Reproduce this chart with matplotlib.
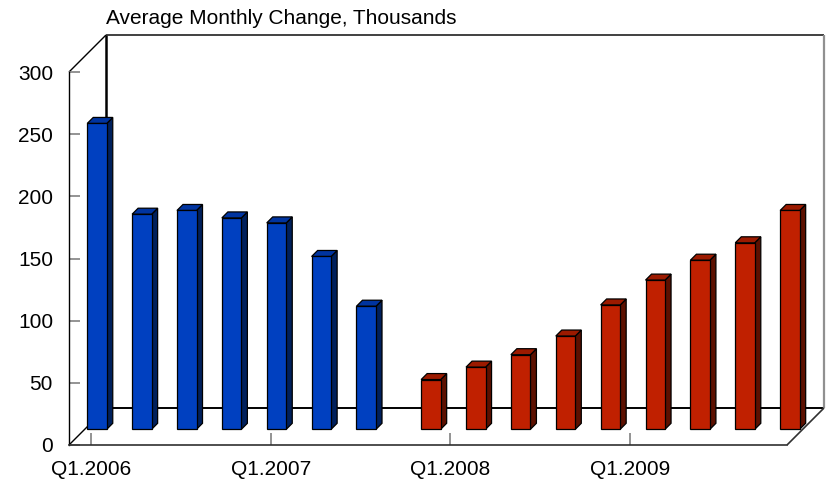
import matplotlib
matplotlib.use('Agg')
import matplotlib.pyplot as plt
import numpy as np
from matplotlib.patches import Polygon
from matplotlib.lines import Line2D
from matplotlib.transforms import ScaledTranslation, IdentityTransform

plt.rcParams['font.family'] = ['Liberation Sans', 'DejaVu Sans']

# ---------------- data ----------------
categories = ['Q1.2006', 'Q2.2006', 'Q3.2006', 'Q4.2006',
              'Q1.2007', 'Q2.2007', 'Q3.2007', 'Q4.2007',
              'Q1.2008', 'Q2.2008', 'Q3.2008', 'Q4.2008',
              'Q1.2009', 'Q2.2009', 'Q3.2009', 'Q4.2009']
blue_categories = categories[0:7]
blue_values = [246, 173, 176, 170, 166, 139, 99]
red_categories = categories[7:16]
red_values = [40, 50, 60, 75, 100, 120, 136, 150, 176]
tick_labels = ['Q1.2006', 'Q1.2007', 'Q1.2008', 'Q1.2009']
y_ticks = [0, 50, 100, 150, 200, 250, 300]
title = 'Average Monthly Change, Thousands'

# ---------------- style ----------------
DPI = 100
W, H = 829, 484
BACK = 37.0      # depth of the box, pixels
D_FRONT = 15.7   # depth at which bar front faces sit
D_BAR = 6.0      # bar depth
BAR_W = 0.435
BLUE = dict(front='#0040C0', top='#0034A0', side='#00205C')
RED = dict(front='#C02000', top='#9C1A00', side='#5C1000')

fig = plt.figure(figsize=(W / DPI, H / DPI), dpi=DPI)
ax = fig.add_axes([69 / W, 39 / H, 718 / W, 373 / H])
ax.set_xlim(-0.5, len(categories) - 0.5)
ax.set_ylim(0, 300)
ax.patch.set_visible(False)
for s in ['top', 'right']:
    ax.spines[s].set_visible(False)
ax.spines['left'].set_linewidth(1.0)
ax.spines['bottom'].set_linewidth(1.2)
ax.spines['bottom'].set_color('#303030')

ax.set_yticks(y_ticks)
ax.set_yticklabels([str(v) for v in y_ticks])
pos = {c: i for i, c in enumerate(categories)}
ax.set_xticks([pos[t] for t in tick_labels])
ax.set_xticklabels(tick_labels)
ax.tick_params(axis='y', direction='in', length=11 * 0.72, width=1.2,
               color='#808080', labelsize=15, pad=11.5)
ax.tick_params(axis='x', direction='in', length=12 * 0.72, width=1.2,
               color='#808080', labelsize=15, pad=10.5)

def disp(x, y, depth):
    p = ax.transData.transform((x, y))
    return (p[0] + depth, p[1] + depth)

def line(pts, color='black', lw=1.0, z=1):
    xs = [p[0] for p in pts]
    ys = [p[1] for p in pts]
    ln = Line2D(xs, ys, color=color, linewidth=lw, transform=IdentityTransform(),
                zorder=z, clip_on=False, solid_capstyle='butt')
    ax.add_line(ln)

x0, x1 = -0.5, len(categories) - 0.5
# back wall / floor frame
line([disp(x0, 0, BACK), disp(x1, 0, BACK)], lw=1.4, z=1)
line([disp(x0, 0, BACK), disp(x0, 300, BACK)], lw=1.8, z=1)
line([disp(x0, 300, BACK), disp(x1, 300, BACK)], color='#202020', lw=1.2, z=1)
line([disp(x1, 300, BACK), disp(x1, 0, BACK)], color='#909090', lw=1.6, z=1)
line([disp(x0, 300, 0), disp(x0, 300, BACK)], lw=1.0, z=1)
line([disp(x0, 0, 0), disp(x0, 0, BACK)], lw=1.0, z=1)
line([disp(x1, 0, 0), disp(x1, 0, BACK)], color='#303030', lw=1.2, z=1)

front_shift = ax.transData + ScaledTranslation(D_FRONT / DPI, D_FRONT / DPI,
                                                fig.dpi_scale_trans)

def draw_series(cats, vals, offset, colors):
    xs = np.array([pos[c] for c in cats]) + offset
    ax.bar(xs, vals, width=BAR_W, color=colors['front'], edgecolor='black',
           linewidth=0.9, transform=front_shift, zorder=3, clip_on=False)
    for x, v in zip(xs, vals):
        xl, xr = x - BAR_W / 2, x + BAR_W / 2
        side = [disp(xr, 0, D_FRONT), disp(xr, v, D_FRONT),
                disp(xr, v, D_FRONT + D_BAR), disp(xr, 0, D_FRONT + D_BAR)]
        top = [disp(xl, v, D_FRONT), disp(xr, v, D_FRONT),
               disp(xr, v, D_FRONT + D_BAR), disp(xl, v, D_FRONT + D_BAR)]
        for verts, col in ((side, colors['side']), (top, colors['top'])):
            ax.add_patch(Polygon(verts, closed=True, facecolor=col,
                                 edgecolor='black', linewidth=0.9,
                                 transform=IdentityTransform(), zorder=2.9,
                                 clip_on=False))

draw_series(blue_categories, blue_values, -0.226, BLUE)
draw_series(red_categories, red_values, 0.215, RED)

fig.text(106 / W, 1 - 24 / H, title, fontsize=15, ha='left', va='baseline')

fig.savefig('out.png', dpi=DPI)
